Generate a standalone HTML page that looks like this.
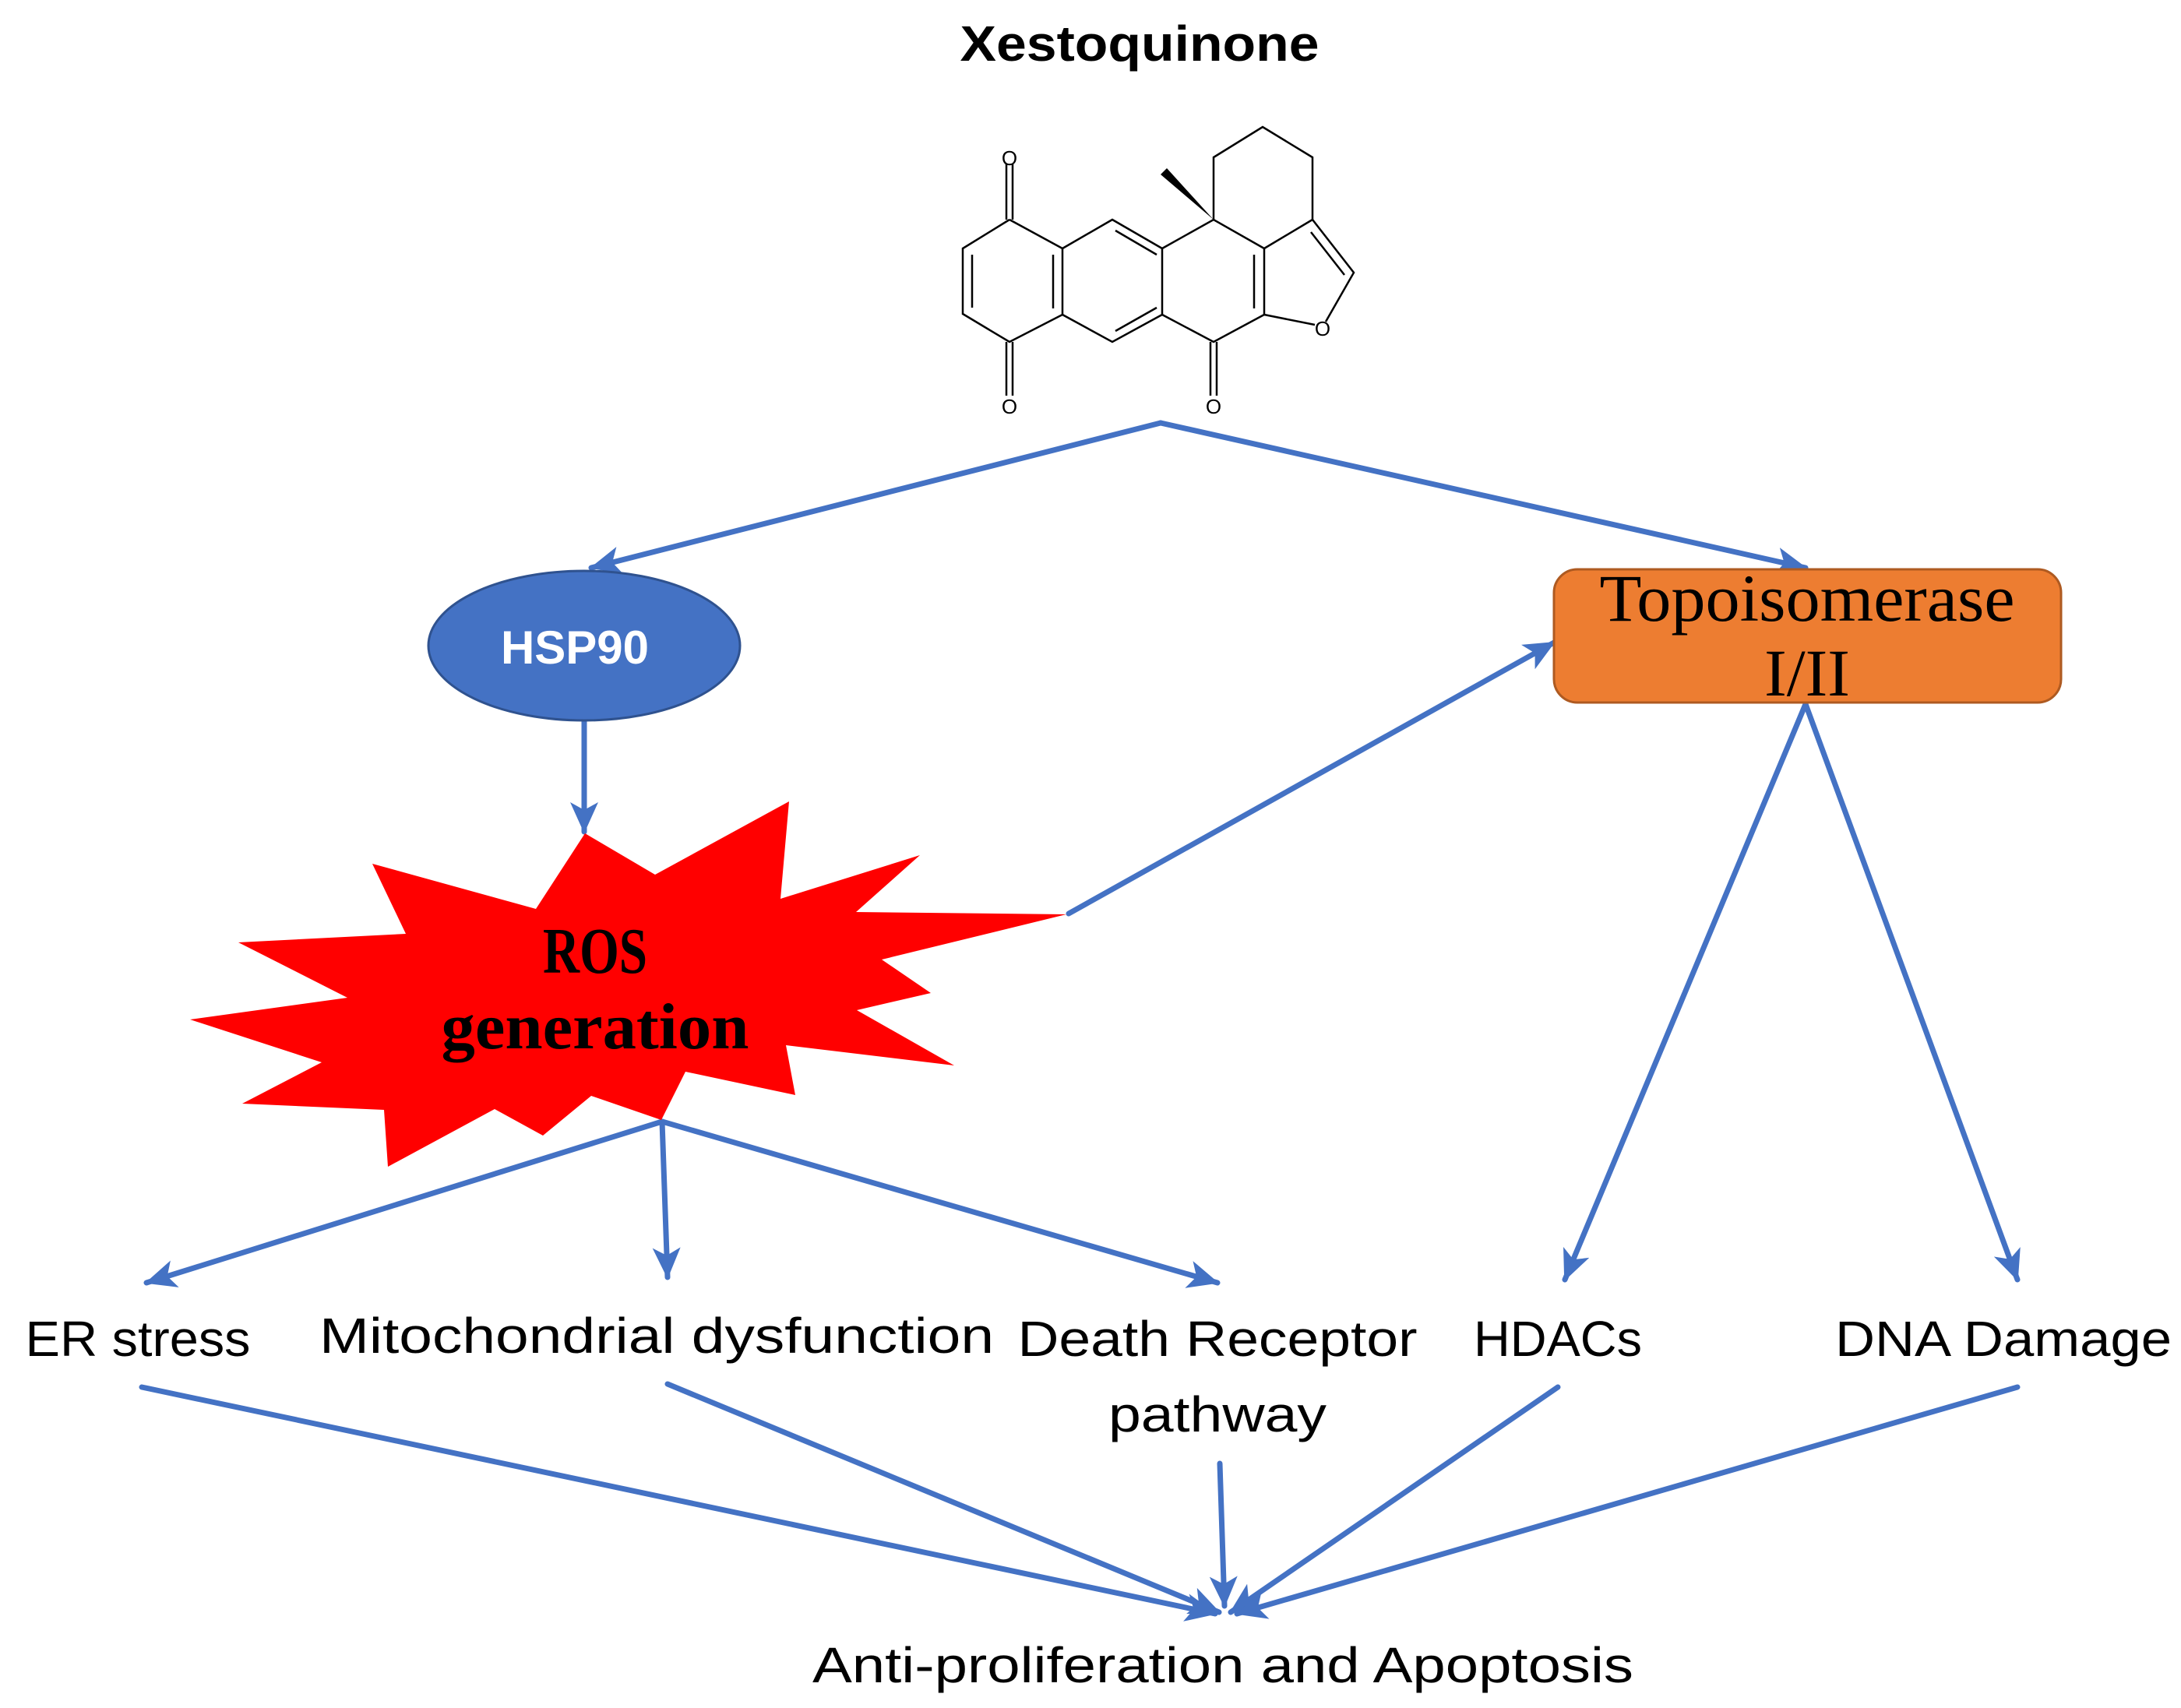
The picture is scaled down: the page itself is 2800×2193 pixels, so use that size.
<!DOCTYPE html>
<html><head><meta charset="utf-8"><style>
html,body{margin:0;padding:0;background:#fff;}
svg{display:block;}
</style></head><body>
<svg width="2800" height="2193" viewBox="0 0 2800 2193" xmlns="http://www.w3.org/2000/svg">
<defs>
<marker id="ah" markerUnits="userSpaceOnUse" markerWidth="42" markerHeight="36" refX="38" refY="18" orient="auto">
<path d="M0,0 L40,18 L0,36 L10,18 Z" fill="#4472C4"/>
</marker>
</defs>
<text x="1463" y="78" text-anchor="middle" font-family="Liberation Sans, sans-serif" font-weight="bold" font-size="64" textLength="461" lengthAdjust="spacingAndGlyphs">Xestoquinone</text>
<g stroke="#000" stroke-width="2.5" fill="none">
<polyline points="1296,282 1236,319 1236,403 1296,439 1364,404 1364,319 1296,282"/>
<line x1="1248" y1="327" x2="1248" y2="395"/>
<line x1="1352" y1="327" x2="1352" y2="396"/>
<line x1="1292" y1="282" x2="1292" y2="210"/><line x1="1300" y1="282" x2="1300" y2="210"/>
<line x1="1292" y1="439" x2="1292" y2="508"/><line x1="1300" y1="439" x2="1300" y2="508"/>
<polyline points="1364,319 1428,282 1492,319 1492,404 1428,439 1364,404"/>
<line x1="1432" y1="296" x2="1485" y2="327"/>
<line x1="1432" y1="425" x2="1485" y2="395"/>
<polyline points="1492,319 1558,282 1623,319 1623,404 1558,439 1492,404"/>
<line x1="1610" y1="327" x2="1610" y2="396"/>
<line x1="1554" y1="439" x2="1554" y2="508"/><line x1="1562" y1="439" x2="1562" y2="508"/>
<polyline points="1558,282 1558,202 1621,163 1685,202 1685,282 1623,319"/>
<polyline points="1685,282 1738,350 1702,413"/>
<line x1="1683" y1="298" x2="1726" y2="353"/>
<line x1="1623" y1="404" x2="1688" y2="417"/>
</g>
<polygon points="1558,282 1490,224 1498,216" fill="#000"/>
<g font-family="Liberation Sans, sans-serif" font-size="26" text-anchor="middle" fill="#000">
<text x="1296" y="212">O</text><text x="1296" y="531">O</text><text x="1558" y="531">O</text><text x="1698" y="431">O</text>
</g>
<g stroke="#4472C4" stroke-width="7" fill="none" stroke-linecap="round">
<line x1="1490" y1="543" x2="759" y2="729" marker-end="url(#ah)"/>
<line x1="1490" y1="543" x2="2318" y2="729" marker-end="url(#ah)"/>
<line x1="750" y1="925" x2="750" y2="1068" marker-end="url(#ah)"/>
<line x1="1372" y1="1173" x2="1995" y2="825" marker-end="url(#ah)"/>
<line x1="2318" y1="904" x2="2009" y2="1643" marker-end="url(#ah)"/>
<line x1="2318" y1="904" x2="2590" y2="1643" marker-end="url(#ah)"/>
<line x1="850" y1="1440" x2="188" y2="1647" marker-end="url(#ah)"/>
<line x1="850" y1="1440" x2="857" y2="1640" marker-end="url(#ah)"/>
<line x1="850" y1="1440" x2="1563" y2="1647" marker-end="url(#ah)"/>
<line x1="182" y1="1781" x2="1560" y2="2072" marker-end="url(#ah)"/>
<line x1="857" y1="1777" x2="1565" y2="2070" marker-end="url(#ah)"/>
<line x1="1566" y1="1879" x2="1572" y2="2062" marker-end="url(#ah)"/>
<line x1="2000" y1="1781" x2="1580" y2="2070" marker-end="url(#ah)"/>
<line x1="2590" y1="1781" x2="1588" y2="2072" marker-end="url(#ah)"/>
</g>
<ellipse cx="750" cy="829" rx="200" ry="96" fill="#4472C4" stroke="#2F528F" stroke-width="3"/>
<text x="738" y="852" text-anchor="middle" font-family="Liberation Sans, sans-serif" font-weight="bold" font-size="60" fill="#fff">HSP90</text>
<rect x="1995" y="731" width="651" height="171" rx="30" fill="#ED7D31" stroke="#AE5A21" stroke-width="3"/>
<text x="2320" y="797" text-anchor="middle" font-family="Liberation Serif, serif" font-size="86" textLength="533" lengthAdjust="spacingAndGlyphs">Topoisomerase</text>
<text x="2320" y="893" text-anchor="middle" font-family="Liberation Serif, serif" font-size="86">I/II</text>
<polygon fill="#FF0000" points="751,1070 841,1123 1013,1029 1002,1154 1181,1098 1099,1171 1369,1174 1132,1232 1195,1275 1100,1297 1225,1368 1009,1342 1021,1406 880,1376 849,1438 759,1407 697,1458 635,1424 498,1498 493,1425 311,1417 413,1364 244,1309 446,1281 306,1210 521,1199 478,1109 688,1167"/>
<text x="764" y="1249" text-anchor="middle" font-family="Liberation Serif, serif" font-weight="bold" font-size="84" textLength="134" lengthAdjust="spacingAndGlyphs">ROS</text>
<text x="764" y="1346" text-anchor="middle" font-family="Liberation Serif, serif" font-weight="bold" font-size="84" textLength="395" lengthAdjust="spacingAndGlyphs">generation</text>
<g font-family="Liberation Sans, sans-serif" font-size="64" text-anchor="middle" fill="#000">
<text x="177" y="1741" textLength="289" lengthAdjust="spacingAndGlyphs">ER stress</text>
<text x="843" y="1737" textLength="866" lengthAdjust="spacingAndGlyphs">Mitochondrial dysfunction</text>
<text x="1563" y="1741" textLength="513" lengthAdjust="spacingAndGlyphs">Death Receptor</text>
<text x="1563" y="1838" textLength="280" lengthAdjust="spacingAndGlyphs">pathway</text>
<text x="2000" y="1741" textLength="216" lengthAdjust="spacingAndGlyphs">HDACs</text>
<text x="2572" y="1741" textLength="432" lengthAdjust="spacingAndGlyphs">DNA Damage</text>
<text x="1570" y="2160" textLength="1054" lengthAdjust="spacingAndGlyphs">Anti-proliferation and Apoptosis</text>
</g>
</svg>
</body></html>
